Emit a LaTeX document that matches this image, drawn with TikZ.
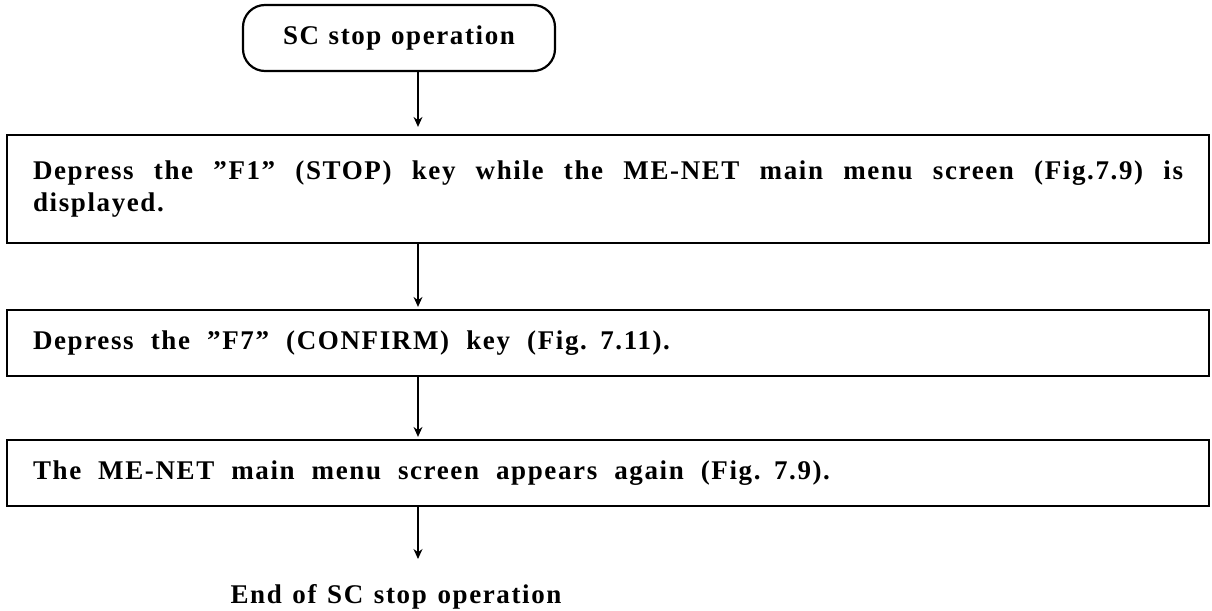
\documentclass[tikz,border=0pt]{standalone}
\usepackage{fontspec}
\setmainfont{Liberation Serif}[LetterSpace=6]
\usetikzlibrary{arrows.meta}
% spread a line of text to a fixed width by stretching its word spaces evenly
\newcommand{\spreadline}[2]{\makebox[#1][s]{\spaceskip=0.25em plus 1fil\relax #2}}

\begin{document}
\begin{tikzpicture}[x=0.5pt,y=-0.5pt,
  every node/.style={font=\fontsize{13.5pt}{16pt}\selectfont\bfseries},
  startbox/.style={draw, line width=1.1pt, rounded corners=11pt,
    minimum width=156pt, minimum height=33pt, inner sep=0pt},
  stepbox/.style={draw, line width=1.1pt, text width=575pt, align=left,
    inner xsep=13pt, inner ysep=0pt},
  flow/.style={-{Stealth[length=5pt,width=4.5pt]}, line width=0.6pt}]

\useasboundingbox[fill=white] (0,0) rectangle (1212,611);

% column of the connectors
\coordinate (ax) at (418,0);

\node[startbox] (start) at (399,38)
  {\spreadline{116pt}{SC stop operation}};

\node[stepbox, minimum height=54pt] (s1) at (608,189)
  {\spreadline{575pt}{Depress the ”F1” (STOP) key while the ME-NET main menu screen (Fig.7.9) is}\\displayed.};

\node[stepbox, minimum height=33pt] (s2) at (608,343)
  {\spreadline{318.5pt}{Depress the ”F7” (CONFIRM) key (Fig. 7.11).}};

\node[stepbox, minimum height=33pt] (s3) at (608,473)
  {\spreadline{398.5pt}{The ME-NET main menu screen appears again (Fig. 7.9).}};

\node[anchor=base] (finish) at (396,603)
  {\spreadline{165.5pt}{End of SC stop operation}};
\coordinate (fintip) at (418,559);

\draw[flow, shorten >=3.5pt] (start.south -| ax) -- (s1.north -| ax);
\draw[flow, shorten >=1pt] (s1.south -| ax) -- (s2.north -| ax);
\draw[flow, shorten >=1pt] (s2.south -| ax) -- (s3.north -| ax);
\draw[flow] (s3.south -| ax) -- (fintip);
\end{tikzpicture}
\end{document}
